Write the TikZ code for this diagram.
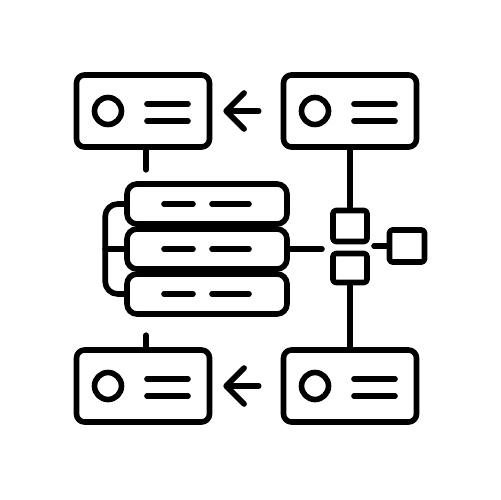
\documentclass[tikz,border=0pt]{standalone}
\usetikzlibrary{calc,arrows.meta}

\tikzset{
  card/.style={draw, rounded corners=1.6mm, minimum width=2.66cm, minimum height=1.44cm, inner sep=0pt},
  slab/.style={draw, rounded corners=2mm, minimum width=3.2cm, minimum height=0.8cm, inner sep=0pt},
  port/.style={draw, rounded corners=0.6mm, minimum width=0.68cm, minimum height=0.62cm, inner sep=0pt},
  dot/.style={draw, circle, minimum size=0.54cm, inner sep=0pt},
  flow/.style={-{Straight Barb[round,length=3.6mm,width=7.2mm]}},
}

\begin{document}
\begin{tikzpicture}[x=0.02cm, y=-0.02cm, line width=3.2pt, line cap=round, line join=round]
  \useasboundingbox (0,0) rectangle (500,500);

  % cards
  \node[card] (tl) at (143,111) {};
  \node[card] (tr) at (350,111) {};
  \node[card] (bl) at (143,386) {};
  \node[card] (br) at (350,386) {};

  \foreach \c in {tl,tr,bl,br} {
    \node[dot] (\c-dot) at ($(\c)+(-35,0)$) {};
    \draw ($(\c)+(4,-7)$) -- ($(\c)+(45,-7)$);
    \draw ($(\c)+(4,10)$) -- ($(\c)+(45,10)$);
  }

  % arrows between cards
  \draw[flow, shorten <=0.44cm, shorten >=0.22cm] (tr.west) -- (tl.east);
  \draw[flow, shorten <=0.44cm, shorten >=0.22cm] (br.west) -- (bl.east);

  % stack
  \node[slab] (s1) at (207,204) {};
  \node[slab] (s2) at (207,249) {};
  \node[slab] (s3) at (207,294) {};
  \foreach \s in {s1,s2,s3} {
    \draw ($(\s)+(-43,0)$) -- ($(\s)+(-14,0)$);
    \draw ($(\s)+(5,0)$) -- ($(\s)+(42,0)$);
  }
  \draw[rounded corners=2.5mm] (s1.west) -- ++(-19,0) |- (s3.west);
  \draw (s2.west) -- ++(-19,0);

  % ports
  \node[port] (p1) at (350,226) {};
  \node[port, minimum height=0.58cm] (p2) at (350,268) {};
  \node[port, minimum width=0.7cm, minimum height=0.64cm] (p3) at (407,246) {};

  % links
  \coordinate (tltail) at ($(tl.south)+(3,20)$);
  \coordinate (bltail) at ($(bl.north)+(3,-12)$);
  \coordinate (s2tail) at (322,249);
  \coordinate (p3tail) at (374,246);
  \draw (tl.south -| tltail) -- (tltail);
  \draw (bl.north -| bltail) -- (bltail);
  \draw (tr.south) -- (p1.north);
  \draw (p2.south) -- (br.north);
  \draw (s2.east) -- (s2tail);
  \draw (p3.west) -- (p3tail);
\end{tikzpicture}
\end{document}
